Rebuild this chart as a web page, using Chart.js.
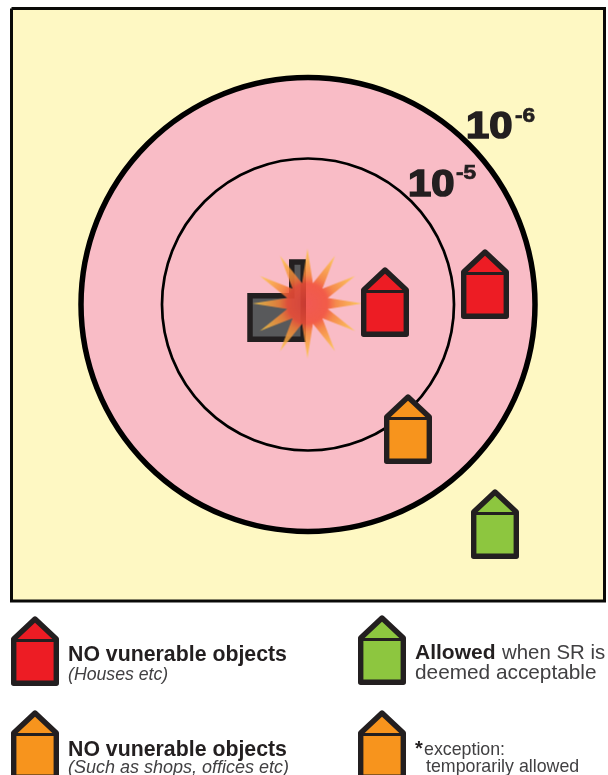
<!DOCTYPE html>
<html>
<head>
<meta charset="utf-8">
<title>Risk contours</title>
<script src="https://cdn.jsdelivr.net/npm/chart.js@4"></script>
<style>
  html, body { margin: 0; padding: 0; background: #fff; }
  canvas { display: block; }
</style>
</head>
<body>
<canvas id="riskChart" width="608" height="775"></canvas>
<script>
/* values, in the chart's own units (one unit = one pixel of the reference) */
const frameX = [11.5, 604.5, 604.5, 11.5, 11.5];
const frameY = [8.5, 8.5, 601, 601, 8.5];
const contourX = [308, 308];
const contourY = [304.5, 304.5];
const contourRadius = [227, 146];
const contourWidth = [5.5, 2.7];
const factoryX = [282];
const factoryY = [305];
const blastX = [307.5];
const blastY = [303.5];
const redHouseX = [385, 485, 35];
const redHouseY = [302, 284, 651];
const orangeHouseX = [408, 35, 382];
const orangeHouseY = [429, 745, 745];
const greenHouseX = [495, 382];
const greenHouseY = [524, 650];

/* texts: [text, x, y, font, colour] */
const contourLabels = [
  ['10', 466, 138, '900 36px "Liberation Sans"', '#231f20'],
  ['-6', 515, 122, '900 19.5px "Liberation Sans"', '#231f20'],
  ['10', 408, 196, '900 36px "Liberation Sans"', '#231f20'],
  ['-5', 456, 179, '900 19.5px "Liberation Sans"', '#231f20']
];
const legendLabels = [
  ['NO vunerable objects', 68, 661, 'bold 21.3px "Liberation Sans"', '#231f20'],
  ['(Houses etc)', 68, 680, 'italic 17.7px "Liberation Sans"', '#414042'],
  ['NO vunerable objects', 68, 756, 'bold 21.3px "Liberation Sans"', '#231f20'],
  ['(Such as shops, offices etc)', 68, 773, 'italic 18px "Liberation Sans"', '#414042'],
  ['Allowed', 415, 659, 'bold 21px "Liberation Sans"', '#231f20'],
  ['when SR is', 502, 659, '20.4px "Liberation Sans"', '#414042'],
  ['deemed acceptable', 415, 679, '20.8px "Liberation Sans"', '#414042'],
  ['*', 415, 755, 'bold 20px "Liberation Sans"', '#231f20'],
  ['exception:', 424, 755, '17.8px "Liberation Sans"', '#414042'],
  ['temporarily allowed', 426, 772, '17.8px "Liberation Sans"', '#414042']
];

const INK = '#231f20';

/* point styles ---------------------------------------------- */
function sprite(w, h, paint) {
  const c = document.createElement('canvas');
  c.width = w;
  c.height = h;
  paint(c.getContext('2d'));
  return c;
}

function houseIcon(color) {
  return sprite(50, 72, g => {
    g.translate(1, 1);
    g.lineJoin = 'round';
    g.strokeStyle = INK;
    g.fillStyle = color;
    g.lineWidth = 5.4;
    g.beginPath();
    g.moveTo(24, 3);
    g.lineTo(45.3, 23);
    g.lineTo(45.3, 67.3);
    g.lineTo(2.7, 67.3);
    g.lineTo(2.7, 23);
    g.closePath();
    g.fill();
    g.stroke();
    g.lineWidth = 3;
    g.beginPath();
    g.moveTo(2.7, 24.5);
    g.lineTo(45.3, 24.5);
    g.stroke();
  });
}

function factoryIcon() {
  return sprite(70, 92, g => {
    g.strokeStyle = INK;
    g.fillStyle = '#58595b';
    g.lineWidth = 5.5;
    g.lineJoin = 'miter';
    g.beginPath();
    g.moveTo(3, 36.75);
    g.lineTo(44.75, 36.75);
    g.lineTo(44.75, 3);
    g.lineTo(56.25, 3);
    g.lineTo(56.25, 80.25);
    g.lineTo(3, 80.25);
    g.closePath();
    g.fill();
    g.stroke();
  });
}

function blastIcon() {
  const spikes = 12, outer = 55, inner = 21, size = 114, mid = size / 2;
  return sprite(size, size, g => {
    const grad = g.createRadialGradient(mid, mid, 0, mid, mid, outer);
    grad.addColorStop(0, 'rgba(239,65,54,0.8)');
    grad.addColorStop(0.36, 'rgba(240,78,55,0.88)');
    grad.addColorStop(0.52, 'rgba(245,130,55,0.85)');
    grad.addColorStop(1, 'rgba(253,205,70,0.8)');
    g.fillStyle = grad;
    g.beginPath();
    for (let i = 0; i < spikes * 2; i++) {
      const a = i * Math.PI / spikes;
      const r = i % 2 ? inner : outer;
      g.lineTo(mid + r * Math.cos(a), mid + r * Math.sin(a));
    }
    g.closePath();
    g.fill();
  });
}

function xy(xs, ys) {
  return xs.map((x, i) => ({ x, y: ys[i] }));
}

function iconSet(xs, ys, icon, order) {
  return {
    type: 'scatter',
    data: xy(xs, ys),
    pointStyle: icon,
    pointRadius: 20,
    order
  };
}

/* texts drawn at scale positions ---------------------------- */
const textPlugin = {
  id: 'textPlugin',
  afterDatasetsDraw(chart) {
    const { ctx, scales } = chart;
    ctx.textBaseline = 'alphabetic';
    contourLabels.concat(legendLabels).forEach(([text, x, y, font, color]) => {
      const px = scales.x.getPixelForValue(x);
      const py = scales.y.getPixelForValue(y);
      ctx.save();
      ctx.font = font;
      ctx.fillStyle = color;
      if (font.startsWith('900')) {           // fake the heavy, wide cut
        ctx.translate(px, py);
        ctx.scale(1.16, 1);
        ctx.strokeStyle = color;
        ctx.lineWidth = text === '10' ? 1.6 : 0.7;
        ctx.strokeText(text, 0, 0);
        ctx.fillText(text, 0, 0);
      } else {
        ctx.fillText(text, px, py);
      }
      ctx.restore();
    });
  }
};

new Chart(document.getElementById('riskChart'), {
  type: 'scatter',
  data: {
    datasets: [
      {
        type: 'scatter',
        data: xy(frameX, frameY),
        showLine: true,
        fill: 'shape',
        tension: 0,
        backgroundColor: '#fef8c3',
        borderColor: '#0a0a08',
        borderWidth: 3,
        borderJoinStyle: 'miter',
        pointRadius: 0,
        order: 10
      },
      {
        type: 'scatter',
        data: xy(contourX.slice(0, 1), contourY.slice(0, 1)),
        pointRadius: contourRadius[0],
        pointBorderWidth: contourWidth[0],
        pointBackgroundColor: '#f9bcc6',
        pointBorderColor: '#000',
        order: 9
      },
      {
        type: 'scatter',
        data: xy(contourX.slice(1), contourY.slice(1)),
        pointRadius: contourRadius[1],
        pointBorderWidth: contourWidth[1],
        pointBackgroundColor: 'rgba(0,0,0,0)',
        pointBorderColor: '#000',
        order: 8
      },
      iconSet(factoryX, factoryY, factoryIcon(), 7),
      iconSet(blastX, blastY, blastIcon(), 6),
      iconSet(redHouseX, redHouseY, houseIcon('#ed1c24'), 5),
      iconSet(orangeHouseX, orangeHouseY, houseIcon('#f7941d'), 4),
      iconSet(greenHouseX, greenHouseY, houseIcon('#8dc63f'), 3)
    ]
  },
  options: {
    responsive: false,
    animation: false,
    layout: { padding: 0, autoPadding: false },
    events: [],
    scales: {
      x: { type: 'linear', min: 0, max: 608, display: false },
      y: { type: 'linear', min: 0, max: 775, reverse: true, display: false }
    },
    plugins: {
      legend: { display: false },
      tooltip: { enabled: false }
    }
  },
  plugins: [textPlugin]
});
</script>
</body>
</html>
